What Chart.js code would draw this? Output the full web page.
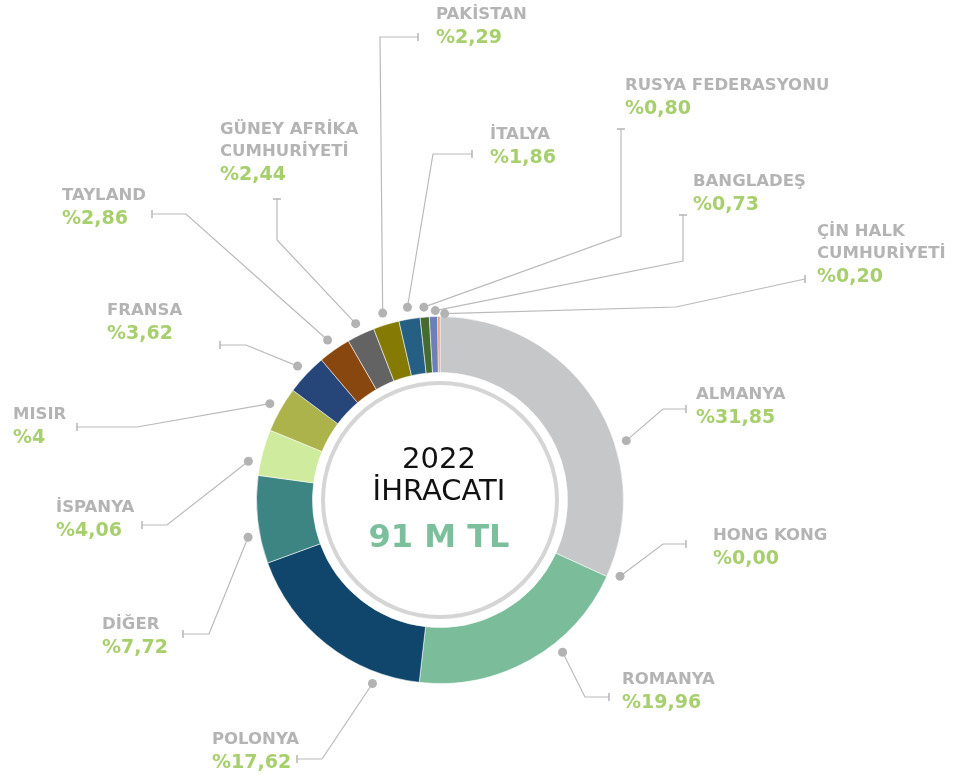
<!DOCTYPE html>
<html lang="tr">
<head>
<meta charset="utf-8">
<title>2022 İhracatı</title>
<script src="https://cdn.jsdelivr.net/npm/chart.js@4.4.1/dist/chart.umd.min.js"></script>
<style>
  html, body { margin: 0; padding: 0; background: #fff; }
  #wrap { position: relative; width: 972px; height: 776px; }
</style>
</head>
<body>
<div id="wrap"><canvas id="exportChart" width="972" height="776"></canvas></div>
<script>
// Data
const countries = ['ALMANYA', 'HONG KONG', 'ROMANYA', 'POLONYA', 'DİĞER', 'İSPANYA', 'MISIR', 'FRANSA',
  'TAYLAND', 'GÜNEY AFRİKA\nCUMHURİYETİ', 'PAKİSTAN', 'İTALYA', 'RUSYA FEDERASYONU', 'BANGLADEŞ', 'ÇİN HALK\nCUMHURİYETİ'];
const shares = [31.85, 0.00, 19.96, 17.62, 7.72, 4.06, 4, 3.62, 2.86, 2.44, 2.29, 1.86, 0.80, 0.73, 0.20];
const shareLabels = ['%31,85', '%0,00', '%19,96', '%17,62', '%7,72', '%4,06', '%4', '%3,62',
  '%2,86', '%2,44', '%2,29', '%1,86', '%0,80', '%0,73', '%0,20'];
const centerTitle = ['2022', 'İHRACATI'];
const centerTotal = '91 M TL';

const sliceColors = ['#c6c7c9', '#c6c7c9', '#7bbd9b', '#10466b', '#3d8583', '#cfeb9d', '#abb34a', '#264579',
  '#88470f', '#636363', '#847a04', '#255f84', '#466b2e', '#6b80b8', '#e8926c'];

/*--------------------- label layout (annotation placement) ---------------------*/
// text anchor: [left x, cap top y] of the first name line
const textAnchor = [[696, 387], [713, 528], [622, 672], [212, 732], [102, 617], [56, 500], [13, 407], [107, 303],
  [62, 188], [220, 122], [436, 7], [490, 127], [625, 78], [693, 174], [817, 224]];
// leader line points after the dot, last one gets the end cap
const leaderPath = [
  [[663, 409], [686, 409]],
  [[663, 544], [686, 544]],
  [[585, 697], [609, 697]],
  [[322, 759], [297, 759]],
  [[209, 634], [183, 634]],
  [[167, 525], [142, 525]],
  [[137, 427], [77, 427]],
  [[246, 345], [220, 345]],
  [[186, 214], [152, 214]],
  [[277, 240], [277, 199]],
  [[380, 37], [418, 37]],
  [[433, 154], [472, 154]],
  [[621, 236], [621, 129]],
  [[683, 261], [683, 215]],
  [[676, 307], [805, 279]]
];
const capDir = ['v', 'v', 'v', 'v', 'v', 'v', 'v', 'v', 'v', 'h', 'v', 'v', 'h', 'h', 'v'];
const dotShift = [15, -1.7, -9.4, -18, -4.8, -3.6, 0, 0, 0, 0, 0, 0, 0, 0.6, 1.8];
const dotGap = [12, 12, 12, 12, 12, 12, 12, 12, 12, 12, 12, 12, 10, 6, 3];

const NAME_FONT = 'bold 16.5px "DejaVu Sans"';
const VALUE_FONT = 'bold 19px "DejaVu Sans"';
const GREY = '#b4b4b4';
const GREEN = '#a7cf6e';

const leaderPlugin = {
  id: 'leaders',
  afterDatasetsDraw(chart) {
    const ctx = chart.ctx;
    const meta = chart.getDatasetMeta(0);
    ctx.save();

    // leader lines + dots
    meta.data.forEach((arc, i) => {
      const p = arc.getProps(['x', 'y', 'startAngle', 'endAngle', 'outerRadius'], true);
      const a = (p.startAngle + p.endAngle) / 2 + dotShift[i] * Math.PI / 180;
      const r = p.outerRadius + dotGap[i];
      const dx = p.x + r * Math.cos(a);
      const dy = p.y + r * Math.sin(a);
      const pts = leaderPath[i];

      ctx.strokeStyle = '#bababa';
      ctx.lineWidth = 1.2;
      ctx.beginPath();
      ctx.moveTo(dx, dy);
      pts.forEach(pt => ctx.lineTo(pt[0], pt[1]));
      ctx.stroke();

      const end = pts[pts.length - 1];
      ctx.lineWidth = 1.6;
      ctx.beginPath();
      if (capDir[i] === 'v') {
        ctx.moveTo(end[0], end[1] - 4);
        ctx.lineTo(end[0], end[1] + 4);
      } else {
        ctx.moveTo(end[0] - 4, end[1]);
        ctx.lineTo(end[0] + 4, end[1]);
      }
      ctx.stroke();

      ctx.fillStyle = '#b3b3b3';
      ctx.beginPath();
      ctx.arc(dx, dy, 4.5, 0, Math.PI * 2);
      ctx.fill();
    });

    // labels
    ctx.textAlign = 'left';
    ctx.textBaseline = 'alphabetic';
    countries.forEach((name, i) => {
      const [tx, top] = textAnchor[i];
      const lines = name.split('\n');
      ctx.font = NAME_FONT;
      ctx.fillStyle = GREY;
      lines.forEach((ln, k) => ctx.fillText(ln, tx, top + 12 + k * 22));
      ctx.font = VALUE_FONT;
      ctx.fillStyle = GREEN;
      ctx.fillText(shareLabels[i], tx, top + lines.length * 22 + 14);
    });

    // center ring and title
    const c = meta.data[0];
    ctx.strokeStyle = '#d5d5d5';
    ctx.lineWidth = 4;
    ctx.beginPath();
    ctx.arc(c.x, c.y, 117, 0, Math.PI * 2);
    ctx.stroke();

    ctx.textAlign = 'center';
    ctx.fillStyle = '#111';
    ctx.font = '29px "DejaVu Sans"';
    ctx.fillText(centerTitle[0], c.x - 1, 468);
    ctx.fillText(centerTitle[1], c.x - 1, 500);
    ctx.fillStyle = '#7bbf9c';
    ctx.font = 'bold 32px "DejaVu Sans"';
    ctx.fillText(centerTotal, c.x - 1, 547);
    ctx.restore();
  }
};

const exportChart = new Chart(document.getElementById('exportChart').getContext('2d'), {
  type: 'doughnut',
  data: {
    labels: countries,
    datasets: [{
      data: shares,
      backgroundColor: sliceColors,
      borderColor: 'rgba(255,255,255,0.55)',
      borderWidth: 1
    }]
  },
  options: {
    responsive: false,
    animation: false,
    cutout: '69.5%',
    layout: { padding: { left: 256, right: 348, top: 316, bottom: 92 } },
    plugins: {
      legend: { display: false },
      tooltip: { enabled: false }
    }
  },
  plugins: [leaderPlugin]
});
</script>
</body>
</html>
